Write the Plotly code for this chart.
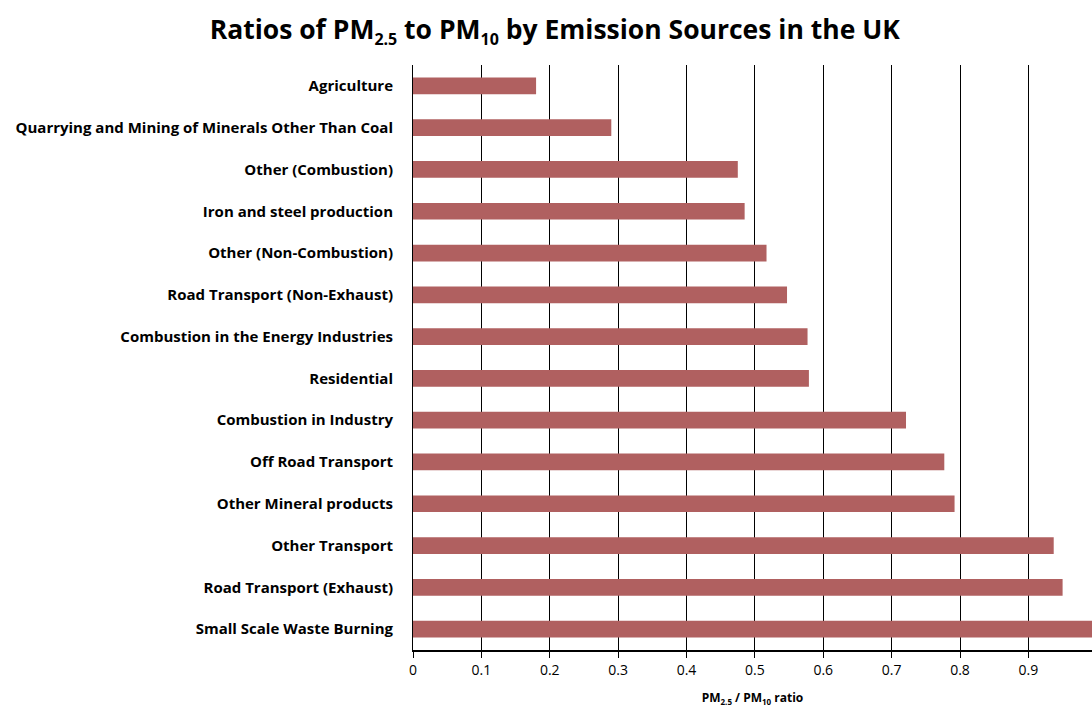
import plotly.graph_objects as go

categories = [
    "Agriculture",
    "Quarrying and Mining of Minerals Other Than Coal",
    "Other (Combustion)",
    "Iron and steel production",
    "Other (Non-Combustion)",
    "Road Transport (Non-Exhaust)",
    "Combustion in the Energy Industries",
    "Residential",
    "Combustion in Industry",
    "Off Road Transport",
    "Other Mineral products",
    "Other Transport",
    "Road Transport (Exhaust)",
    "Small Scale Waste Burning",
]
ratios = [0.18, 0.29, 0.475, 0.485, 0.517, 0.547, 0.577, 0.579,
          0.721, 0.777, 0.792, 0.937, 0.950, 1.0]
x_ticks = [0, 0.1, 0.2, 0.3, 0.4, 0.5, 0.6, 0.7, 0.8, 0.9]
x_tick_labels = ["0", "0.1", "0.2", "0.3", "0.4", "0.5", "0.6", "0.7", "0.8", "0.9"]

FONT = "Open Sans"

fig = go.Figure(go.Bar(
    x=ratios, y=categories, orientation="h",
    marker=dict(color="#B06060", line=dict(width=0)),
    hoverinfo="x+y",
))

fig.update_layout(
    width=1092, height=707,
    margin=dict(l=413, r=0, t=65, b=57),
    paper_bgcolor="white", plot_bgcolor="white",
    bargap=0.6,
    showlegend=False,
    font=dict(family=FONT, color="black"),
    title=dict(
        text="<b>Ratios of PM<sub><span style='font-size:16px'>2.5</span></sub> to "
             "PM<sub><span style='font-size:16px'>10</span></sub> by Emission Sources in the UK</b>",
        x=0.508, xanchor="center", y=0.958, yanchor="middle",
        font=dict(family=FONT, size=26.5, color="black"),
    ),
)

fig.update_xaxes(
    range=[0, 0.993],
    tickvals=x_ticks, ticktext=x_tick_labels,
    showgrid=True, gridcolor="black", gridwidth=1,
    zeroline=False,
    showline=True, linecolor="black", linewidth=2,
    ticks="outside", ticklen=6, tickcolor="black", tickwidth=1,
    tickfont=dict(family=FONT, size=14, color="black"),
    title=dict(text="<b>PM<sub><span style='font-size:8px'>2.5</span></sub> / "
                    "PM<sub><span style='font-size:8px'>10</span></sub> ratio</b>",
               font=dict(family=FONT, size=12, color="black"), standoff=16),
    fixedrange=True,
)
fig.update_yaxes(
    autorange="reversed",
    categoryorder="array", categoryarray=categories,
    showgrid=False, zeroline=False,
    showline=True, linecolor="black", linewidth=1,
    ticks="", ticklabelstandoff=16,
    tickfont=dict(family=FONT, size=15, color="black"),
    tickprefix="<b>", ticksuffix="</b>",
    fixedrange=True,
)

fig.write_html(
    "out.html",
    config={"displayModeBar": False},
    post_script="document.body.style.margin='0';document.body.style.overflow='hidden';",
)
